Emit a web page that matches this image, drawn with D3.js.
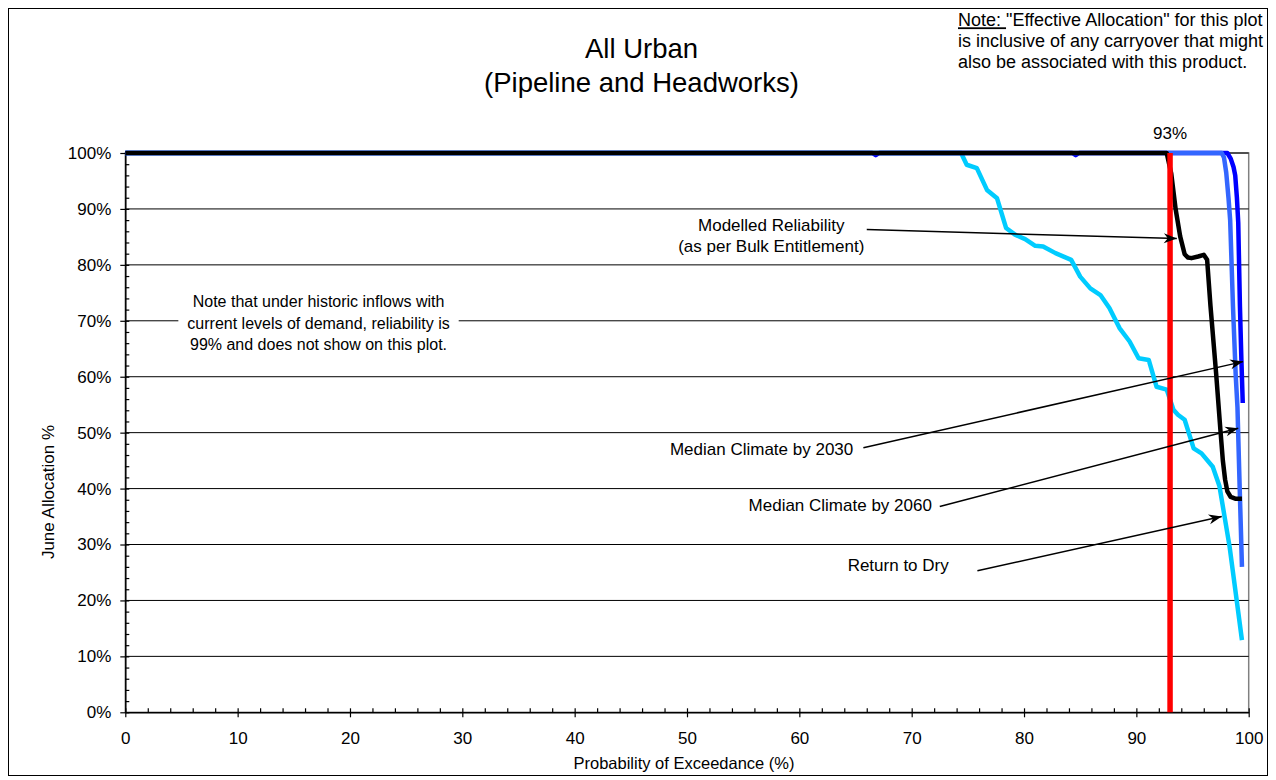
<!DOCTYPE html>
<html><head><meta charset="utf-8">
<script src="https://cdn.jsdelivr.net/npm/d3@7/dist/d3.min.js"></script>
<style>
body{margin:0;background:#fff;}
svg text{font-family:"Liberation Sans",Arial,Helvetica,sans-serif;fill:#000;}
</style>
</head><body>
<svg id="chart" width="1276" height="780"></svg>
<script>
// ---- data ----
const xMajorTicks = [0,10,20,30,40,50,60,70,80,90,100];
const yMajorTicks = [0,10,20,30,40,50,60,70,80,90,100];
const titleLines = ["All Urban", "(Pipeline and Headworks)"];
const xTitle = "Probability of Exceedance (%)";
const yTitle = "June Allocation %";

const reliabilityX = 93;
const reliabilityLabel = "93%";

const returnToDryX = [0,74.4,74.9,75.8,76.7,77.6,78.4,79.2,80.1,81.0,81.7,82.8,84.2,85.0,85.9,86.8,87.6,88.5,89.4,90.2,91.1,91.8,92.7,93.3,93.7,94.3,95.1,95.8,96.8,97.4,98.3,99.4];
const returnToDryY = [100,100,97.9,97.3,93.4,91.9,86.6,85.4,84.6,83.4,83.3,82.1,80.9,77.9,75.8,74.6,72.3,68.7,66.3,63.3,63.0,58.2,57.7,54.1,53.2,52.3,47.2,46.3,43.9,40.4,29.6,12.9];

const median2030X = [0,66.5,66.8,67.1,84.3,84.6,84.9,98.1,98.4,98.65,98.8,98.95,99.07,99.22,99.35,99.47];
const median2030Y = [100,100,99.6,100,100,99.6,100,100,99,97.5,96,92,87.5,72.6,63,55.3];

const median2060X = [0,97.6,97.8,98.0,98.2,98.35,98.6,98.85,99.0,99.2,99.4];
const median2060Y = [100,100,99.2,96.5,92,88,72.6,60,54.5,40,26];

const baseX = [0,92.7,93.1,93.5,93.9,94.3,94.6,94.9,95.5,96.0,96.3,96.6,97.1,97.5,97.7,97.9,98.1,98.4,98.8,99.4];
const baseY = [100,100,96.4,89.9,85.1,81.9,81.3,81.2,81.5,81.8,80.9,72.6,60.6,50,45,41.6,39.5,38.5,38.2,38.2];

// annotations (data coordinates)
const annoText = [
  {lines:["Modelled Reliability","(as per Bulk Entitlement)"], x:57.5, y:[87.2,83.3], anchor:"middle"},
  {lines:["Median Climate by 2030"], x:64.8, y:[47.1], anchor:"end"},
  {lines:["Median Climate by 2060"], x:71.8, y:[37.1], anchor:"end"},
  {lines:["Return to Dry"], x:68.8, y:[26.4], anchor:"middle"}
];
const annoArrows = [
  {x1:66.0, y1:86.3, x2:93.6, y2:84.7},
  {x1:65.7, y1:47.3, x2:99.5, y2:62.7},
  {x1:72.5, y1:36.8, x2:99.07, y2:50.8},
  {x1:75.85, y1:25.3, x2:97.6, y2:35.0}
];
const leftNoteLines = ["Note that under historic inflows with","current levels of demand, reliability is","99% and does not show on this plot."];
const leftNotePos = {x:17.2, y:[73.4,69.6,65.7]};
const topNote = ["\"Effective Allocation\" for this plot","is inclusive of any carryover that might","also be associated with this product."];

// ---- drawing ----
const svg = d3.select("#chart");
const W = 1276, H = 780;
const x = d3.scaleLinear().domain([0,100]).range([125.3,1248.7]);
const y = d3.scaleLinear().domain([0,100]).range([712.3,153]);
const FS = 17;

svg.append("rect").attr("x",0).attr("y",0).attr("width",W).attr("height",H).attr("fill","#fff");
svg.append("rect").attr("x",8.5).attr("y",8.5).attr("width",1259).attr("height",767)
  .attr("fill","none").attr("stroke","#000").attr("stroke-width",1);

// plot area border
svg.append("rect").attr("x",x(0)).attr("y",y(100)).attr("width",x(100)-x(0)).attr("height",y(0)-y(100))
  .attr("fill","none").attr("stroke","#808080").attr("stroke-width",1.5);

// gridlines
svg.append("g").selectAll("line").data(yMajorTicks.filter(d=>d>0)).join("line")
  .attr("x1",x(0)).attr("x2",x(100)).attr("y1",d=>y(d)).attr("y2",d=>y(d))
  .attr("stroke","#000").attr("stroke-width",1);

// left note with white box
const ln = svg.append("g");
const lnText = ln.append("text").attr("text-anchor","middle").style("font-size","16px");
leftNoteLines.forEach((t,i)=>{
  lnText.append("tspan").attr("x",x(leftNotePos.x)).attr("y",y(leftNotePos.y[i])).attr("dy","0.35em").text(t);
});
const bb = lnText.node().getBBox();
ln.insert("rect","text").attr("x",bb.x-9).attr("y",bb.y-2).attr("width",bb.width+18).attr("height",bb.height+4).attr("fill","#fff");

// minor ticks
const xMinor = d3.range(0,101,2).filter(d=>d%10!==0);
const yMinor = d3.range(0,101,2).filter(d=>d%10!==0);

// axes
const xAxis = svg.append("g").attr("transform",`translate(0,${y(0)})`)
  .call(d3.axisBottom(x).tickValues(xMajorTicks).tickSizeInner(5).tickSizeOuter(0).tickPadding(15).tickFormat(d3.format("d")));
xAxis.select(".domain").attr("stroke","#000").attr("stroke-width",1.5);
xAxis.selectAll(".tick line").attr("y1",-4).attr("stroke","#000").attr("stroke-width",1.2);
xAxis.selectAll("text").style("font-size",FS+"px").attr("fill","#000");
svg.append("g").attr("transform",`translate(0,${y(0)})`)
  .call(d3.axisBottom(x).tickValues(xMinor).tickSizeInner(-4).tickSizeOuter(0).tickFormat(""))
  .call(g=>{g.select(".domain").remove(); g.selectAll("line").attr("stroke","#000").attr("stroke-width",1.2);});

const yAxis = svg.append("g").attr("transform",`translate(${x(0)},0)`)
  .call(d3.axisLeft(y).tickValues(yMajorTicks).tickSizeInner(5).tickSizeOuter(0).tickPadding(9).tickFormat(d=>d+"%"));
yAxis.select(".domain").attr("stroke","#000").attr("stroke-width",1.5);
yAxis.selectAll(".tick line").attr("x1",4).attr("stroke","#000").attr("stroke-width",1.2);
yAxis.selectAll("text").style("font-size",FS+"px").attr("fill","#000");
svg.append("g").attr("transform",`translate(${x(0)},0)`)
  .call(d3.axisLeft(y).tickValues(yMinor).tickSizeInner(-4).tickSizeOuter(0).tickFormat(""))
  .call(g=>{g.select(".domain").remove(); g.selectAll("line").attr("stroke","#000").attr("stroke-width",1.2);});

// series
const line = d3.line().x(d=>x(d[0])).y(d=>y(d[1])).curve(d3.curveLinear);
const zip = (a,b)=>a.map((v,i)=>[v,b[i]]);
const series = [
  {xs:returnToDryX, ys:returnToDryY, color:"#00CCFF", w:4.5},
  {xs:median2030X, ys:median2030Y, color:"#0000FF", w:4.5},
  {xs:median2060X, ys:median2060Y, color:"#3366FF", w:4.5},
  {xs:baseX, ys:baseY, color:"#000000", w:4.5}
];
svg.append("g").selectAll("path").data(series).join("path")
  .attr("d",d=>line(zip(d.xs,d.ys)))
  .attr("fill","none").attr("stroke",d=>d.color).attr("stroke-width",d=>d.w)
  .attr("stroke-linejoin","round").attr("stroke-linecap","butt");

// reliability line
svg.append("line").attr("x1",x(reliabilityX)).attr("x2",x(reliabilityX)).attr("y1",y(0)).attr("y2",y(100))
  .attr("stroke","#FF0000").attr("stroke-width",5.5);
svg.append("text").attr("x",x(reliabilityX)).attr("y",y(103.6)).attr("dy","0.35em").attr("text-anchor","middle")
  .style("font-size",FS+"px").text(reliabilityLabel);

// arrows
const defs = svg.append("defs");
defs.append("marker").attr("id","arr").attr("viewBox","-14 -6 16 12").attr("refX",0).attr("refY",0)
  .attr("markerWidth",16).attr("markerHeight",12).attr("markerUnits","userSpaceOnUse").attr("orient","auto")
  .append("path").attr("d","M0,0 L-13,-5 L-9,0 L-13,5 Z").attr("fill","#000");
svg.append("g").selectAll("line").data(annoArrows).join("line")
  .attr("x1",d=>x(d.x1)).attr("y1",d=>y(d.y1)).attr("x2",d=>x(d.x2)).attr("y2",d=>y(d.y2))
  .attr("stroke","#000").attr("stroke-width",1.5).attr("marker-end","url(#arr)");

annoText.forEach(a=>{
  const t = svg.append("text").attr("text-anchor",a.anchor).style("font-size",FS+"px");
  a.lines.forEach((s,i)=>t.append("tspan").attr("x",x(a.x)).attr("y",y(a.y[i])).attr("dy","0.35em").text(s));
});

// title
const tt = svg.append("text").attr("text-anchor","middle").style("font-size","27.5px");
titleLines.forEach((s,i)=>tt.append("tspan").attr("x",641.5).attr("y",48+i*34).attr("dy","0.35em").text(s));

// axis titles
svg.append("text").attr("x",684).attr("y",763).attr("dy","0.35em").attr("text-anchor","middle")
  .style("font-size","16.5px").text(xTitle);
svg.append("text").attr("transform","translate(48,492) rotate(-90)").attr("dy","0.35em").attr("text-anchor","middle")
  .style("font-size",FS+"px").text(yTitle);

// top right note
const tn = svg.append("text").style("font-size","18px");
topNote.forEach((s,i)=>{
  const ts = tn.append("tspan").attr("x",958).attr("y",20+i*21).attr("dy","0.35em");
  if(i===0){
    ts.append("tspan").style("text-decoration","underline").text("Note: ");
    ts.append("tspan").text(s);
  } else ts.text(s);
});
</script>
</body></html>
